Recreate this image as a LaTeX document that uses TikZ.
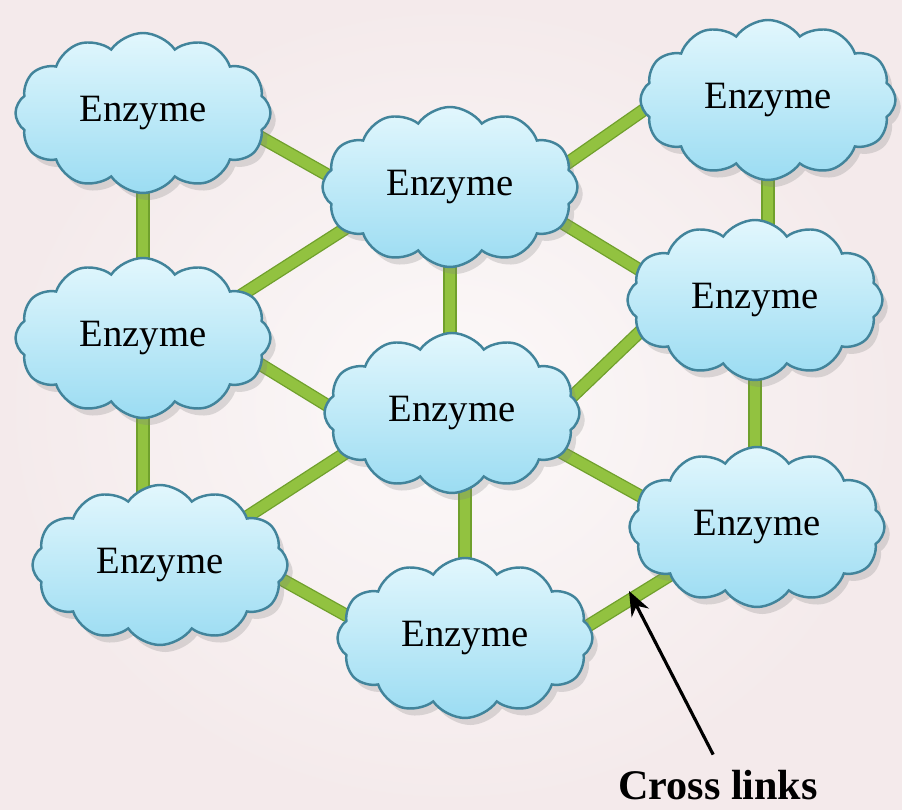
\documentclass[tikz,border=0pt]{standalone}
\usepackage{fontspec}
\setmainfont{Liberation Serif}
\usetikzlibrary{shapes.symbols, shadows, arrows.meta, backgrounds}

\pgfdeclarelayer{paper}
\pgfsetlayers{paper,background,main}

\definecolor{bgpink}{RGB}{244,234,235}
\definecolor{bgwhite}{RGB}{252,249,249}
\definecolor{cloudtop}{RGB}{226,247,253}
\definecolor{cloudbot}{RGB}{155,220,242}
\definecolor{cloudline}{RGB}{66,132,155}
\definecolor{linkgreen}{RGB}{146,194,64}
\definecolor{linkdark}{RGB}{112,160,44}

\tikzset{
    enzyme/.style={cloud, cloud puffs=12, cloud puff arc=110, aspect=1.5, draw=cloudline, line width=1.4pt,
        top color=cloudtop, bottom color=cloudbot,
        minimum width=5.1cm, minimum height=3.2cm, inner sep=0pt,
        font=\fontsize{22}{26}\selectfont,
        drop shadow={shadow xshift=3pt, shadow yshift=-4pt, opacity=0.25, fill=gray}},
    crosslink/.style={linkgreen, line width=6pt, shorten <=-10pt, shorten >=-10pt,
        preaction={draw=linkdark, line width=7.5pt}}
}

\begin{document}
\begin{tikzpicture}

    % background
    \begin{pgfonlayer}{paper}
        \shade[inner color=bgwhite, outer color=bgpink] (0, 0) rectangle (18.04, 16.2);
    \end{pgfonlayer}
    \useasboundingbox (0, 0) rectangle (18.04, 16.2);

    % the enzyme clouds
    \node[enzyme] (c1) at (2.86, 13.94) {Enzyme};
    \node[enzyme] (c2) at (9.0, 12.46) {Enzyme};
    \node[enzyme] (c3) at (15.36, 14.2) {Enzyme};

    \node[enzyme] (c4) at (2.86, 9.44) {Enzyme};
    \node[enzyme] (c5) at (9.04, 7.94) {Enzyme};
    \node[enzyme] (c6) at (15.1, 10.2) {Enzyme};

    \node[enzyme] (c7) at (3.2, 4.9) {Enzyme};
    \node[enzyme] (c8) at (9.3, 3.44) {Enzyme};
    \node[enzyme] (c9) at (15.14, 5.66) {Enzyme};

    % links behind the clouds
    \begin{pgfonlayer}{background}
        \draw[crosslink] (c1.south) -- (c4.north);
        \draw[crosslink] (c4.south) -- (c4.south |- c7.north);
        \draw[crosslink] (c2.south) -- (c2.south |- c5.north);
        \draw[crosslink] (c8.north) -- (c8.north |- c5.south);
        \draw[crosslink] (c3.south) -- (c3.south |- c6.north);
        \draw[crosslink] (c6.south) -- (c6.south |- c9.north);

        \draw[crosslink] (c1.-12) -- (c2.174);
        \draw[crosslink] (c2.-158) -- (c4.24);
        \draw[crosslink] (c2.12) -- (c3.-175);
        \draw[crosslink] (c2.-18) -- (c6.165);
        \draw[crosslink] (c4.-13) -- (c5.176);
        \draw[crosslink] (c5.-159) -- (c7.29);
        \draw[crosslink] (c5.8) -- (c6.-164);
        \draw[crosslink] (c5.-20) -- (c9.165);
        \draw[crosslink] (c7.-7) -- (c8.169);
        \draw[crosslink] (c8.6) -- (c9.-151);
    \end{pgfonlayer}

    % label with pointer
    \node[font=\fontsize{24}{28}\selectfont\bfseries] (lbl) at (14.36, 0.5) {Cross links};
    \coordinate (xlink) at (12.58, 4.38);
    \draw[line width=1.8pt, -{Stealth[length=14pt, width=11pt]}, shorten <=6pt] (lbl.north) -- (xlink);

\end{tikzpicture}
\end{document}
